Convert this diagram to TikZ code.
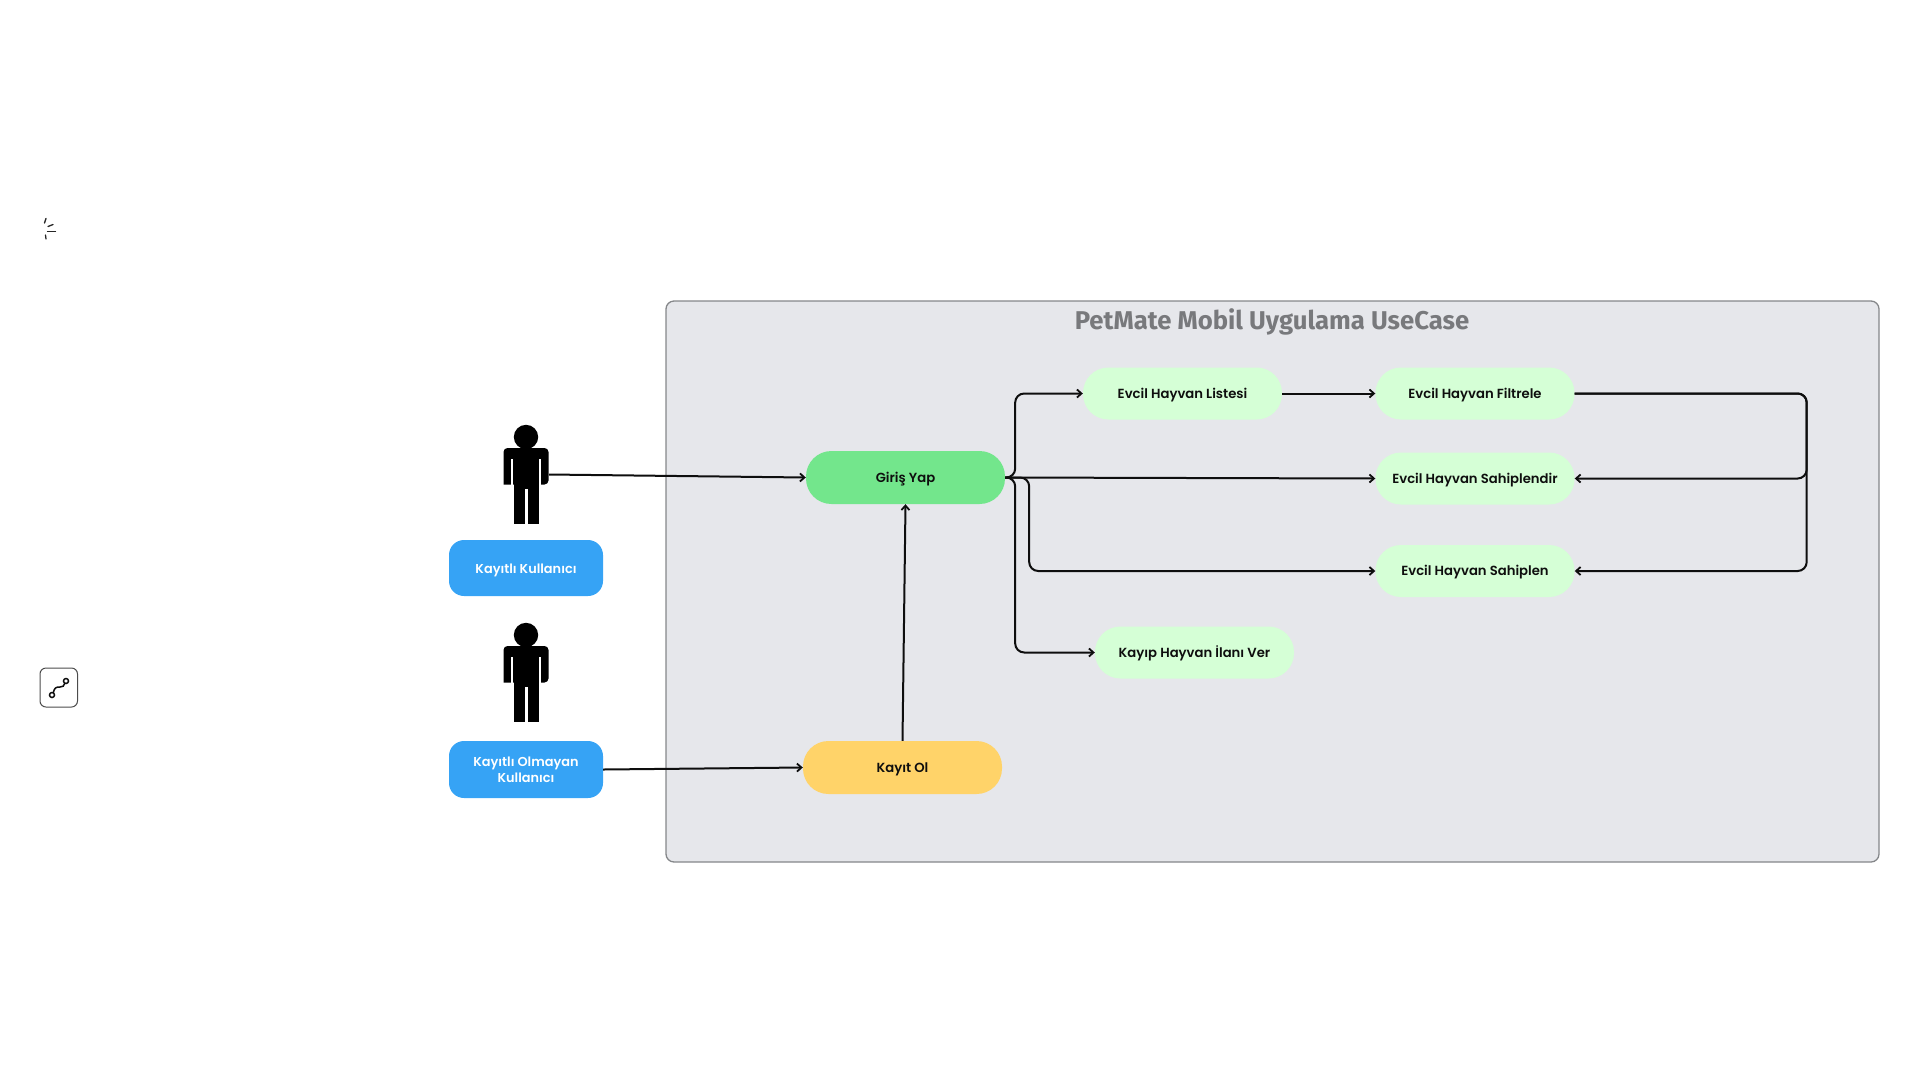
\documentclass[tikz,border=0pt]{standalone}
\usepackage{fontspec}
\setmainfont{Poppins}[BoldFont={Poppins SemiBold}]
\newfontfamily\titlefont{Fira Sans}
\usetikzlibrary{arrows.meta}
\definecolor{panelfill}{HTML}{E6E7EB}
\definecolor{panelline}{HTML}{85878A}
\definecolor{lightgreen}{HTML}{D5FFD6}
\definecolor{midgreen}{HTML}{73E68C}
\definecolor{yellowbox}{HTML}{FFD369}
\definecolor{bluebox}{HTML}{36A3F5}
\definecolor{ink}{HTML}{0E0E0E}
\tikzset{
  x=1pt,y=-1pt,
  usecase/.style={rectangle,rounded corners=25.4pt,minimum width=199pt,minimum height=52pt,inner sep=0pt,text=ink,font=\fontsize{13.2}{16}\selectfont\bfseries,text height=12pt,text depth=2.4pt},
  leaf/.style={usecase,fill=lightgreen},
  rolebox/.style={rectangle,rounded corners=15pt,minimum width=154pt,minimum height=56pt,inner sep=0pt,fill=bluebox,text=white,align=center,font=\fontsize{12.9}{16}\selectfont\bfseries},
  actorbox/.style={rectangle,minimum width=45pt,minimum height=99pt,inner sep=0pt},
  conn/.style={draw=ink,line width=2pt,-{Straight Barb[length=4.5pt,width=8pt,line width=1.8pt]}},
  elbow/.style={rounded corners=9pt}
}
\newcommand{\actorshape}[2]{%
  \begin{scope}[shift={(#1,#2)}]
    \fill[black] (0,-37.5) circle[radius=12.2pt];
    \fill[black,rounded corners=4pt] (-22.5,10) -- (-22.5,-26.5) -- (22.5,-26.5) -- (22.5,10) [sharp corners] -- cycle;
    \fill[black] (-12.5,-24) rectangle (12.5,14);
    \fill[black] (-12.5,10) rectangle (-1.5,49.5);
    \fill[black] (1.5,13) rectangle (12.5,49.5);
    \fill[black] (-1.5,10) rectangle (1.5,13.5);
    \fill[white] (-15.4,-16) rectangle (-12.6,10.2);
    \fill[white] (12.6,-16) rectangle (15.4,10.2);
    \fill[white] (-12.6,10.2) rectangle (-22.6,12);
    \fill[white] (12.6,10.2) rectangle (22.6,12);
  \end{scope}}
\begin{document}
\begin{tikzpicture}
\useasboundingbox (0,0) rectangle (1920,1080);
% panel
\node[rectangle,rounded corners=8pt,fill=panelfill,draw=panelline,line width=1.3pt,minimum width=1213pt,minimum height=561pt,inner sep=0pt] (panel) at (1272.5,581.5) {};
\node[text=panelline!90!black,font=\titlefont\fontsize{25.7}{30}\selectfont\bfseries,inner sep=0pt] (title) at (1272,321.5) {PetMate Mobil Uygulama UseCase};
% actors
\actorshape{526}{474.5}
\actorshape{526}{672.5}
\node[actorbox] (actora) at (526.5,474.5) {};
\node[actorbox] (actorb) at (526.5,672.5) {};
% role boxes
\node[rolebox,text height=12.6pt,text depth=2pt] (kayitli) at (526,568) {Kayıtlı Kullanıcı};
\node[rolebox,minimum height=57pt] (kayitsiz) at (526,769.5) {Kayıtlı Olmayan\\Kullanıcı};
% use cases
\node[usecase,fill=midgreen,minimum height=53pt] (giris) at (905.5,477.5) {Giriş Yap};
\node[usecase,fill=yellowbox,minimum height=53pt] (kayit) at (902.5,767.5) {Kayıt Ol};
\node[leaf] (liste) at (1182.5,393.5) {Evcil Hayvan Listesi};
\node[leaf] (filtre) at (1475,393.5) {Evcil Hayvan Filtrele};
\node[leaf] (sahiplendir) at (1475,478.5) {Evcil Hayvan Sahiplendir};
\node[leaf] (sahiplen) at (1475,571) {Evcil Hayvan Sahiplen};
\node[leaf] (kayip) at (1194.5,652.5) {Kayıp Hayvan İlanı Ver};
% connectors
\draw[conn] (actora.east) -- (giris.west);
\draw[conn] (kayitsiz.east) -- (kayit.west);
\draw[conn] (kayit.north) -- (giris.south);
\draw[conn] (giris.east) -- (sahiplendir.west);
\draw[conn,elbow] (giris.east) -- ++(10,0) |- (liste.west);
\draw[conn,elbow] (giris.east) -- ++(10,0) |- (kayip.west);
\draw[conn,elbow] (giris.east) -- ++(24,0) |- (sahiplen.west);
\draw[conn] (liste.east) -- (filtre.west);
\draw[conn,elbow] (filtre.east) -- ++(232,0) |- (sahiplendir.east);
\draw[conn,elbow] (filtre.east) -- ++(232,0) |- (sahiplen.east);
% side icons
\begin{scope}[line width=1.3pt,draw=black!85]
\draw[line cap=round] (44.5,223) -- (46,218.5);
\draw[line cap=round] (48,226.5) -- (53,224.5);
\draw[line cap=round] (47.5,231.3) -- (55.5,231.3);
\draw[line cap=round] (45.5,235) -- (46,239);
\end{scope}
\draw[draw=black!70,line width=1pt,rounded corners=6pt] (40,668) rectangle (77.5,707);
\draw[ink,line width=1.5pt] (52,695) circle[radius=2.5pt];
\draw[ink,line width=1.5pt] (66,681) circle[radius=2.5pt];
\draw[ink,line width=1.5pt] (53.2,692.8) .. controls (54.5,687.5) and (56,687) .. (60,687) .. controls (63,687) and (64,686) .. (64.8,683.2);
\end{tikzpicture}
\end{document}
